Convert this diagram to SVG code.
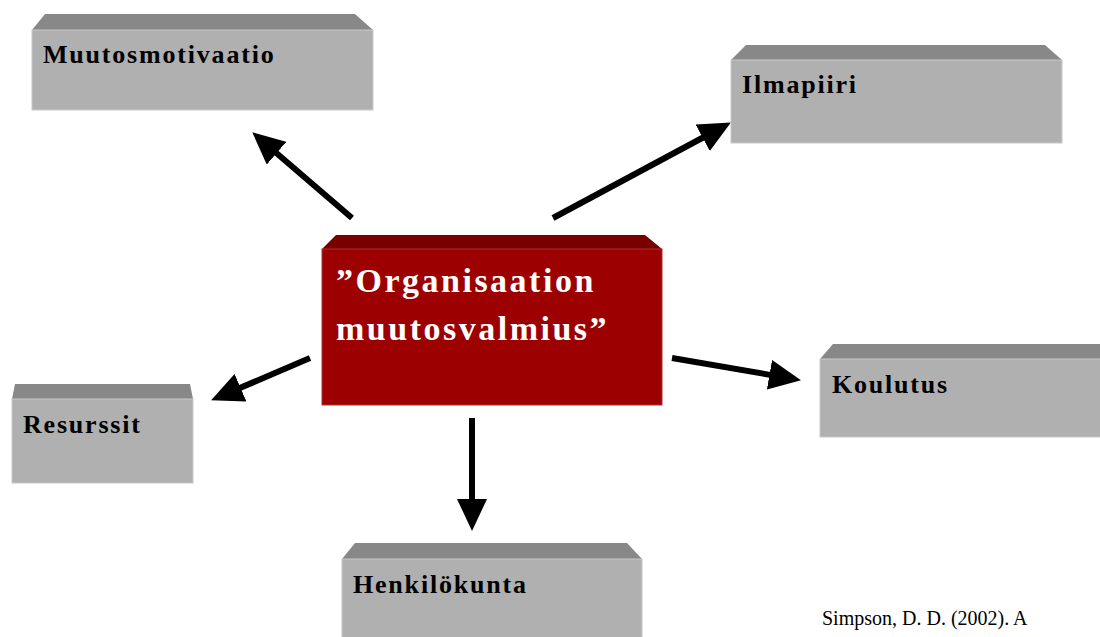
<svg xmlns="http://www.w3.org/2000/svg" width="1100" height="637" viewBox="0 0 1100 637">
<style>
.front{fill:#b0b0b0;stroke:#c8c8c8;stroke-width:1}
.top{fill:#888888}
.rfront{fill:#9c0000;stroke:#b03030;stroke-width:1}
.rtop{fill:#780000}
.lbl{font-family:"Liberation Serif","Times New Roman",serif;font-weight:bold;font-size:26px;letter-spacing:1.8px;fill:#000}
.main{font-family:"Liberation Serif","Times New Roman",serif;font-weight:bold;font-size:34px;letter-spacing:2.5px;fill:#fff}
.cite{font-family:"Liberation Serif","Times New Roman",serif;font-size:20px;fill:#000}
.conn{stroke:#000;stroke-width:6;fill:none;marker-end:url(#ah)}
</style>
<defs>
<marker id="ah" viewBox="0 0 32 30" refX="11" refY="15" markerWidth="32" markerHeight="30" markerUnits="userSpaceOnUse" orient="auto">
<path d="M0,0 L32,15 L0,30 z" fill="#000"/>
</marker>
</defs>
<rect width="1100" height="637" fill="#fff"/>
<g id="connectors">
<line class="conn" x1="352" y1="218" x2="268.2" y2="146"/>
<line class="conn" x1="553" y1="218" x2="712.4" y2="132.5"/>
<line class="conn" x1="310" y1="358" x2="230.4" y2="392.1"/>
<line class="conn" x1="672" y1="358" x2="780.3" y2="376.6"/>
<line class="conn" x1="472" y1="418" x2="472" y2="510"/>
</g>
<g id="muutosmotivaatio">
<polygon class="top" points="45,14 355,14 373,30 32,30"/>
<rect class="front" x="32" y="30" width="341" height="80"/>
<text class="lbl" x="43" y="63">Muutosmotivaatio</text>
</g>
<g id="ilmapiiri">
<polygon class="top" points="746,45 1045,45 1062,60 731,60"/>
<rect class="front" x="731" y="60" width="331" height="83"/>
<text class="lbl" x="742" y="93">Ilmapiiri</text>
</g>
<g id="center">
<polygon class="rtop" points="336,235 645,235 662,249 322,249"/>
<rect class="rfront" x="322" y="249" width="340" height="156"/>
<text class="main" x="336" y="292">”Organisaation</text>
<text class="main" x="336" y="340">muutosvalmius”</text>
</g>
<g id="resurssit">
<polygon class="top" points="15,384 190,384 193,399 12,399"/>
<rect class="front" x="12" y="399" width="181" height="84"/>
<text class="lbl" x="23" y="433">Resurssit</text>
</g>
<g id="koulutus">
<polygon class="top" points="833,344 1110,344 1110,359 820,359"/>
<rect class="front" x="820" y="359" width="290" height="78"/>
<text class="lbl" x="832" y="393">Koulutus</text>
</g>
<g id="henkilokunta">
<polygon class="top" points="355,543 627,543 642,559 342,559"/>
<rect class="front" x="342" y="559" width="300" height="90"/>
<text class="lbl" x="353" y="593">Henkilökunta</text>
</g>
<text class="cite" x="822" y="625">Simpson, D. D. (2002). A</text>
</svg>
